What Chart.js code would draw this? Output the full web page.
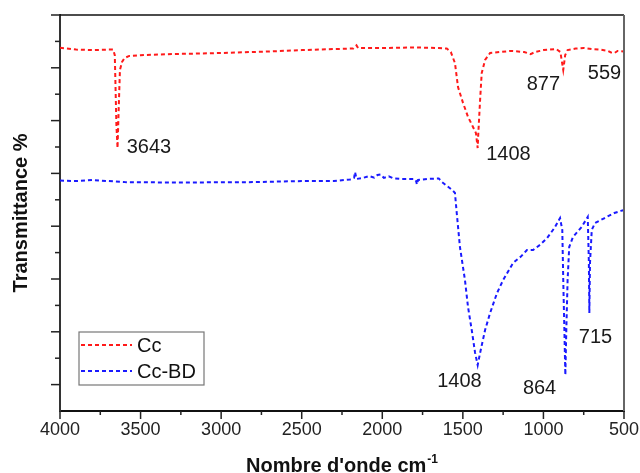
<!DOCTYPE html>
<html>
<head>
<meta charset="utf-8">
<script src="https://cdn.jsdelivr.net/npm/chart.js@4/dist/chart.umd.min.js"></script>
<style>
html,body{margin:0;padding:0;background:#fff;}
canvas{display:block;}
</style>
</head>
<body>
<canvas id="c" width="640" height="473"></canvas>
<script>
// ---- data ----
const ccWavenumbers = [4000,3900,3800,3700,3670,3660,3655,3650,3643,3636,3628,3615,3600,3570,3500,3300,3000,2700,2500,2300,2180,2160,2150,2000,1800,1650,1600,1575,1549,1530,1499,1468,1437,1419,1408,1404,1393,1383,1362,1331,1269,1200,1120,1080,1050,1000,920,895,877,865,850,800,750,700,650,600,580,559,540,500];
const ccValues = [13.76,13.69,13.67,13.69,13.69,13.48,12.16,10.83,9.96,11.40,12.92,13.22,13.37,13.45,13.48,13.52,13.56,13.62,13.67,13.71,13.73,13.85,13.75,13.75,13.77,13.75,13.73,13.60,13.18,12.27,11.67,11.14,10.76,10.53,9.96,10.53,11.78,12.80,13.30,13.56,13.60,13.64,13.60,13.52,13.60,13.67,13.71,13.60,12.92,13.48,13.67,13.73,13.75,13.71,13.69,13.64,13.58,13.56,13.64,13.62];

const ccbdWavenumbers = [4000,3900,3800,3700,3600,3400,3100,2800,2500,2300,2200,2175,2169,2160,2120,2080,2050,2030,2010,1990,1960,1930,1880,1800,1790,1785,1778,1720,1650,1629,1566,1549,1538,1518,1487,1468,1445,1424,1408,1393,1362,1331,1288,1250,1188,1140,1102,1064,1020,977,930,897,883,877,870,864,858,850,840,817,763,725,718,715,711,700,680,620,560,520,500];
const ccbdValues = [8.73,8.71,8.75,8.71,8.67,8.66,8.66,8.67,8.71,8.71,8.77,8.83,9.05,8.79,8.83,8.90,8.84,8.94,8.96,8.83,8.89,8.81,8.79,8.79,8.71,8.58,8.75,8.79,8.81,8.67,8.37,8.26,7.50,6.21,4.96,3.94,3.07,2.20,1.74,2.20,3.07,3.71,4.47,4.96,5.61,5.85,6.10,6.10,6.30,6.55,6.95,7.31,6.86,4.96,3.07,1.36,3.07,4.96,6.21,6.59,6.97,7.35,5.61,3.71,5.61,6.86,7.12,7.31,7.50,7.58,7.61];

const seriesLabels = ['Cc','Cc-BD'];
const xTickLabels = [4000,3500,3000,2500,2000,1500,1000,500];

// peak annotations: text, position (wavenumber, value) of the text centre
const peakTexts = ['3643','1408','877','559','1408','864','715'];
const peakTextWn = [3448,1217,1000,621,1521,1024,677];
const peakTextVal = [10.0,9.73,12.35,12.77,1.10,0.87,2.77];

const FONT = "'Liberation Sans', Arial, Helvetica, sans-serif";
const RED = '#ff1a1a';
const BLUE = '#1a1aff';

function toPoints(xs, ys){ return xs.map((x,i)=>({x:x, y:ys[i]})); }

const decorPlugin = {
  id: 'decor',
  afterDraw(chart){
    const ctx = chart.ctx;
    const ca = chart.chartArea;
    const xs = chart.scales.x, ys = chart.scales.y;
    ctx.save();
    // top & right borders
    ctx.strokeStyle = '#111'; ctx.lineWidth = 1.5;
    ctx.beginPath(); ctx.moveTo(ca.left, ca.top); ctx.lineTo(ca.right, ca.top); ctx.stroke();
    ctx.strokeStyle = '#666'; ctx.lineWidth = 2;
    ctx.beginPath(); ctx.moveTo(ca.right, ca.top); ctx.lineTo(ca.right, ca.bottom); ctx.stroke();
    // x ticks (major every 500, minor every 250)
    ctx.strokeStyle = '#222'; ctx.lineWidth = 1.5;
    for (let w = 500; w <= 4000; w += 250){
      const px = xs.getPixelForValue(w);
      const len = (w % 500 === 0) ? 8 : 4;
      ctx.beginPath(); ctx.moveTo(px, ca.bottom); ctx.lineTo(px, ca.bottom + len); ctx.stroke();
    }
    // y ticks
    for (let v = 1; v <= 15; v++){
      const py = ys.getPixelForValue(v);
      const len = (v % 2 === 1) ? 9 : 5;
      ctx.beginPath(); ctx.moveTo(ca.left, py); ctx.lineTo(ca.left - len, py); ctx.stroke();
    }
    // peak labels
    ctx.fillStyle = '#1a1a1a';
    ctx.font = '20px ' + FONT;
    ctx.textAlign = 'center'; ctx.textBaseline = 'middle';
    peakTexts.forEach((t,i)=>{
      ctx.fillText(t, xs.getPixelForValue(peakTextWn[i]), ys.getPixelForValue(peakTextVal[i]));
    });
    // legend
    const lx = ca.left + 19, ly = ca.top + 317, lw = 125, lh = 53;
    ctx.strokeStyle = '#777'; ctx.lineWidth = 1.2;
    ctx.strokeRect(lx, ly, lw, lh);
    chart.data.datasets.forEach((ds,i)=>{
      const yy = ly + 13 + i*26;
      ctx.strokeStyle = ds.borderColor; ctx.lineWidth = 2;
      ctx.setLineDash([4,3]);
      ctx.beginPath(); ctx.moveTo(lx + 2, yy); ctx.lineTo(lx + 53, yy); ctx.stroke();
      ctx.setLineDash([]);
      ctx.fillStyle = '#111';
      ctx.font = '20px ' + FONT;
      ctx.textAlign = 'left'; ctx.textBaseline = 'middle';
      ctx.fillText(ds.label, lx + 58, yy + 1);
    });
    // y title
    ctx.save();
    ctx.translate(21, (ca.top + ca.bottom)/2);
    ctx.rotate(-Math.PI/2);
    ctx.font = 'bold 20px ' + FONT;
    ctx.textAlign = 'center'; ctx.textBaseline = 'middle';
    ctx.fillStyle = '#111';
    ctx.fillText('Transmittance %', 0, 0);
    ctx.restore();
    // x title with superscript
    ctx.font = 'bold 20px ' + FONT;
    const main = "Nombre d'onde cm";
    const w1 = ctx.measureText(main).width;
    ctx.font = 'bold 12px ' + FONT;
    const sup = '-1';
    const w2 = ctx.measureText(sup).width;
    const total = w1 + w2 + 1;
    const cx = (ca.left + ca.right)/2;
    const sx = cx - total/2;
    const ty = 472;
    ctx.fillStyle = '#111';
    ctx.textAlign = 'left'; ctx.textBaseline = 'alphabetic';
    ctx.font = 'bold 20px ' + FONT;
    ctx.fillText(main, sx, ty);
    ctx.font = 'bold 12px ' + FONT;
    ctx.fillText(sup, sx + w1 + 1, ty - 9);
    ctx.restore();
  }
};

new Chart(document.getElementById('c'), {
  type: 'line',
  data: {
    datasets: [
      { label: seriesLabels[0], data: toPoints(ccWavenumbers, ccValues), borderColor: RED, borderWidth: 2, borderDash: [4,3], pointRadius: 0, tension: 0, fill: false },
      { label: seriesLabels[1], data: toPoints(ccbdWavenumbers, ccbdValues), borderColor: BLUE, borderWidth: 2, borderDash: [4,3], pointRadius: 0, tension: 0, fill: false }
    ]
  },
  options: {
    responsive: false,
    devicePixelRatio: 1,
    animation: false,
    layout: { padding: { left: 0, right: 16, top: 15, bottom: 0 } },
    plugins: { legend: { display: false }, tooltip: { enabled: false }, title: { display: false } },
    scales: {
      x: {
        type: 'linear', min: 500, max: 4000, reverse: true,
        afterBuildTicks: (s) => { s.ticks = xTickLabels.map(v => ({ value: v })); },
        afterFit: (s) => { s.height = 62; s.paddingLeft = 0; s.paddingRight = 0; },
        ticks: { font: { family: FONT, size: 18 }, color: '#222', padding: 8, maxRotation: 0, autoSkip: false, callback: (v) => String(v) },
        grid: { display: false, drawTicks: false, tickLength: 0 },
        border: { display: true, color: '#111', width: 2 }
      },
      y: {
        type: 'linear', min: 0, max: 15,
        afterFit: (s) => { s.width = 60; s.paddingTop = 0; s.paddingBottom = 0; },
        ticks: { display: false, stepSize: 1 },
        grid: { display: false, drawTicks: false, tickLength: 0 },
        border: { display: true, color: '#333', width: 2 }
      }
    }
  },
  plugins: [decorPlugin]
});
</script>
</body>
</html>
